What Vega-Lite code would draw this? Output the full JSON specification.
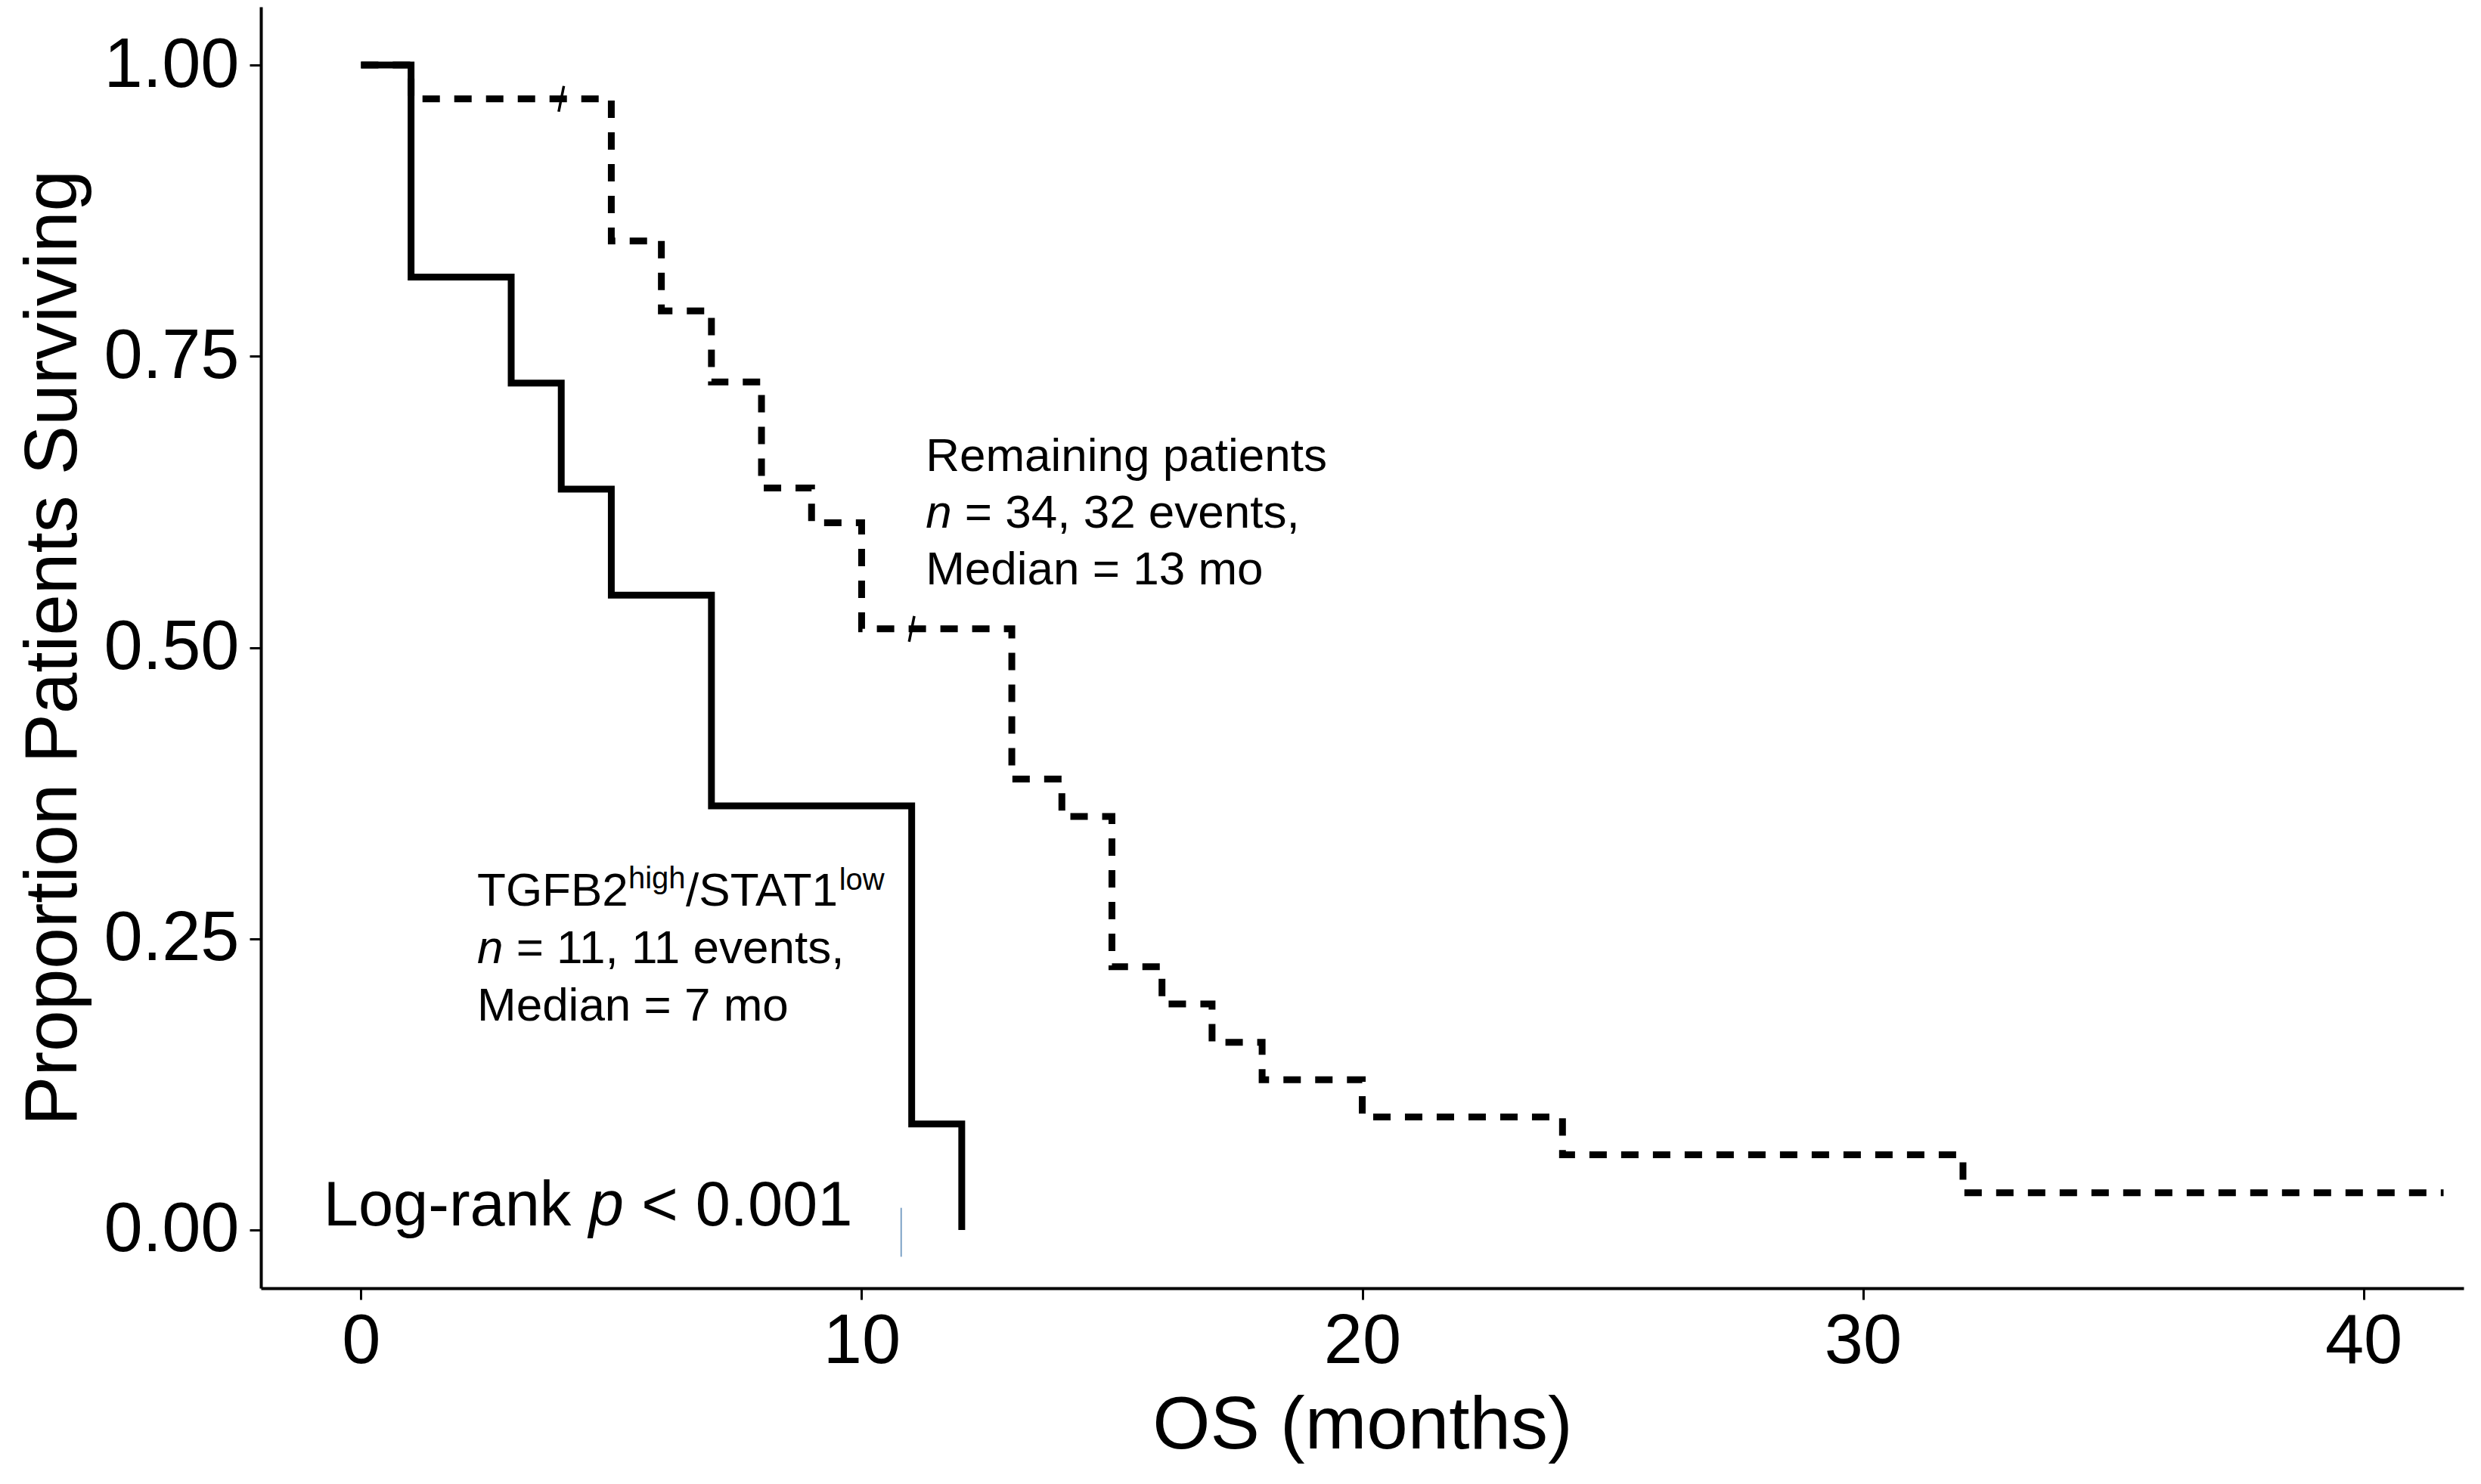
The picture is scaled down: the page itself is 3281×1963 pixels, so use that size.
{
  "$schema": "https://vega.github.io/schema/vega-lite/v6.json",
  "width": 2913,
  "height": 1695,
  "autosize": "none",
  "padding": {"left": 345, "top": 9, "right": 23, "bottom": 259},
  "background": "white",
  "config": {
    "view": {"stroke": null},
    "axis": {
      "grid": false,
      "domainColor": "black",
      "domainWidth": 4,
      "tickColor": "black",
      "tickWidth": 3,
      "tickSize": 15,
      "labelFont": "Liberation Sans",
      "labelFontSize": 92,
      "labelColor": "black",
      "titleFont": "Liberation Sans",
      "titleFontSize": 98,
      "titleFontWeight": "normal",
      "titleColor": "black"
    }
  },
  "datasets": {
    "curves": [
      {"group": "Remaining patients", "x": 0, "y": 1},
      {"group": "Remaining patients", "x": 1, "y": 0.971},
      {"group": "Remaining patients", "x": 5, "y": 0.849},
      {"group": "Remaining patients", "x": 6, "y": 0.789},
      {"group": "Remaining patients", "x": 7, "y": 0.728},
      {"group": "Remaining patients", "x": 8, "y": 0.637},
      {"group": "Remaining patients", "x": 9, "y": 0.607},
      {"group": "Remaining patients", "x": 10, "y": 0.516},
      {"group": "Remaining patients", "x": 13, "y": 0.387},
      {"group": "Remaining patients", "x": 14, "y": 0.355},
      {"group": "Remaining patients", "x": 15, "y": 0.226},
      {"group": "Remaining patients", "x": 16, "y": 0.194},
      {"group": "Remaining patients", "x": 17, "y": 0.161},
      {"group": "Remaining patients", "x": 18, "y": 0.129},
      {"group": "Remaining patients", "x": 20, "y": 0.097},
      {"group": "Remaining patients", "x": 24, "y": 0.0645},
      {"group": "Remaining patients", "x": 32, "y": 0.032},
      {"group": "Remaining patients", "x": 41.6, "y": 0.032},
      {"group": "TGFB2high/STAT1low", "x": 0, "y": 1},
      {"group": "TGFB2high/STAT1low", "x": 1, "y": 0.818},
      {"group": "TGFB2high/STAT1low", "x": 3, "y": 0.727},
      {"group": "TGFB2high/STAT1low", "x": 4, "y": 0.636},
      {"group": "TGFB2high/STAT1low", "x": 5, "y": 0.545},
      {"group": "TGFB2high/STAT1low", "x": 7, "y": 0.364},
      {"group": "TGFB2high/STAT1low", "x": 11, "y": 0.091},
      {"group": "TGFB2high/STAT1low", "x": 12, "y": 0}
    ],
    "censored": [
      {"x": 4, "y": 0.971},
      {"x": 11, "y": 0.516}
    ],
    "stray": [
      {"x": 10.79, "y": 0.019, "y2": -0.023}
    ],
    "labels": [
      {"text": "Remaining patients", "x": 11.28, "y": 0.6515},
      {"text": "= 34, 32 events,", "x": 12.06, "y": 0.603},
      {"text": "Median = 13 mo", "x": 11.28, "y": 0.554},
      {"text": "TGFB2", "x": 2.32, "y": 0.2784},
      {"text": "/STAT1", "x": 6.49, "y": 0.2784},
      {"text": "= 11, 11 events,", "x": 3.1, "y": 0.2291},
      {"text": "Median = 7 mo", "x": 2.32, "y": 0.1797}
    ],
    "variables": [
      {"text": "n", "x": 11.28, "y": 0.603},
      {"text": "n", "x": 2.32, "y": 0.2291}
    ],
    "superscripts": [
      {"text": "high", "x": 5.34, "y": 0.293},
      {"text": "low", "x": 9.55, "y": 0.292}
    ],
    "logrank": [
      {"text": "Log-rank", "x": -0.75, "y": 0.004},
      {"text": "< 0.001", "x": 5.6, "y": 0.004}
    ],
    "logrankVar": [
      {"text": "p", "x": 4.55, "y": 0.004}
    ]
  },
  "encoding": {
    "x": {
      "field": "x",
      "type": "quantitative",
      "scale": {"domain": [-2, 42], "nice": false, "zero": false},
      "axis": {"title": "OS (months)", "values": [0, 10, 20, 30, 40], "labelPadding": 10, "titlePadding": 18, "labelFlush": false}
    },
    "y": {
      "field": "y",
      "type": "quantitative",
      "scale": {"domain": [-0.05, 1.05], "nice": false, "zero": false},
      "axis": {"title": "Proportion Patients Surviving", "values": [0, 0.25, 0.5, 0.75, 1], "format": ".2f", "labelPadding": 14, "titlePadding": 24}
    }
  },
  "layer": [
    {
      "data": {"name": "curves"},
      "mark": {"type": "line", "interpolate": "step-after", "strokeWidth": 9, "color": "black"},
      "encoding": {
        "strokeDash": {
          "field": "group",
          "type": "nominal",
          "scale": {"domain": ["Remaining patients", "TGFB2high/STAT1low"], "range": [[23, 19], [1, 0]]},
          "legend": null
        }
      }
    },
    {
      "data": {"name": "censored"},
      "mark": {"type": "point", "shape": "M0.2,-1L-0.2,1", "filled": false, "size": 1156, "strokeWidth": 3.5, "color": "black", "opacity": 1}
    },
    {
      "data": {"name": "stray"},
      "mark": {"type": "rule", "color": "#7da2c6", "strokeWidth": 2},
      "encoding": {"y2": {"field": "y2"}}
    },
    {
      "data": {"name": "labels"},
      "mark": {"type": "text", "align": "left", "baseline": "alphabetic", "font": "Liberation Sans", "fontSize": 62, "color": "black"},
      "encoding": {"text": {"field": "text"}}
    },
    {
      "data": {"name": "variables"},
      "mark": {"type": "text", "align": "left", "baseline": "alphabetic", "font": "Liberation Sans", "fontSize": 62, "fontStyle": "italic", "color": "black"},
      "encoding": {"text": {"field": "text"}}
    },
    {
      "data": {"name": "superscripts"},
      "mark": {"type": "text", "align": "left", "baseline": "alphabetic", "font": "Liberation Sans", "fontSize": 40, "color": "black"},
      "encoding": {"text": {"field": "text"}}
    },
    {
      "data": {"name": "logrank"},
      "mark": {"type": "text", "align": "left", "baseline": "alphabetic", "font": "Liberation Sans", "fontSize": 83, "color": "black"},
      "encoding": {"text": {"field": "text"}}
    },
    {
      "data": {"name": "logrankVar"},
      "mark": {"type": "text", "align": "left", "baseline": "alphabetic", "font": "Liberation Sans", "fontSize": 83, "fontStyle": "italic", "color": "black"},
      "encoding": {"text": {"field": "text"}}
    }
  ]
}
